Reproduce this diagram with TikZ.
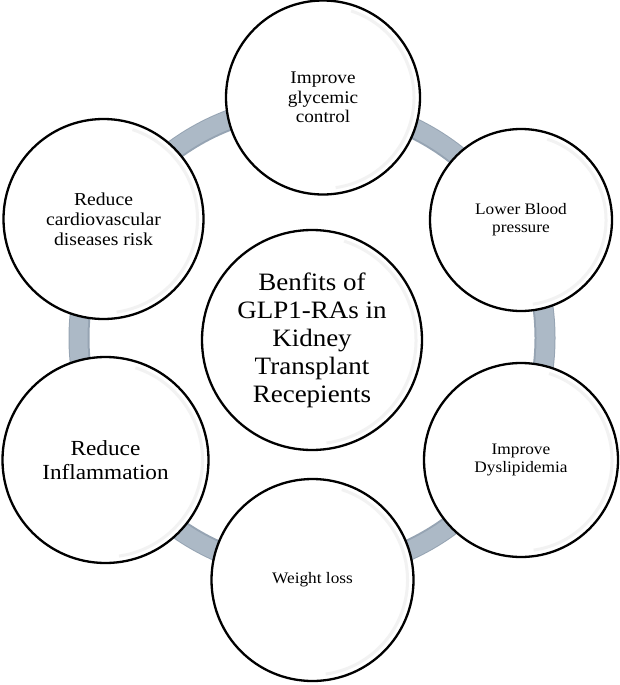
\documentclass[tikz,border=0pt]{standalone}
\usepackage{fontspec}
\setmainfont{Liberation Serif}[FakeStretch=1.08]
\definecolor{ringc}{RGB}{172,185,198}
\definecolor{ringd}{RGB}{150,164,179}
\tikzset{
  bub/.style={circle, draw=black, line width=2.3pt, fill=white, inner sep=0pt, align=center, text=black},
  shade/.style={draw=black!5, line width=3pt},
}
\newcommand{\mybub}[7]{%
  \node[bub, minimum size=#4*2pt, font=\fontsize{#5}{#6}\selectfont] (#1) at (#2,#3) {#7};
  \draw[shade] (#1.center) ++(-72:#4-6) arc[start angle=-72, end angle=82, radius=#4-6];
}
\begin{document}
\begin{tikzpicture}[x=1pt,y=-1pt]
\useasboundingbox (0,0) rectangle (619,685);
\coordinate (rc) at (312,338);
\draw[ringd, line width=21pt] (rc) circle (233);
\draw[ringc, line width=18pt] (rc) circle (233.5);
\mybub{top}{323}{97.5}{97}{17.8}{19.5}{Improve\\glycemic\\control}
\mybub{tr}{521}{220}{91}{16}{18}{Lower Blood\\pressure}
\mybub{br}{521}{460}{97}{16}{18.5}{Improve\\Dyslipidemia}
\mybub{bot}{312.5}{580}{101}{16}{18}{Weight loss}
\mybub{bl}{105.5}{460}{103}{21.5}{24}{Reduce\\Inflammation}
\mybub{tl}{103.5}{219}{100}{18.2}{20}{Reduce\\cardiovascular\\diseases risk}
\mybub{ctr}{312}{340}{110}{25}{28}{Benfits of\\GLP1-RAs in\\Kidney\\Transplant\\Recepients}
\end{tikzpicture}
\end{document}
